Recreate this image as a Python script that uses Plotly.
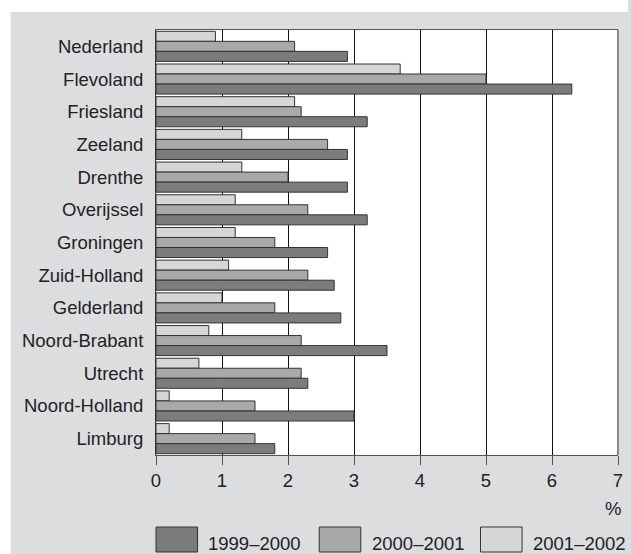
import plotly.graph_objects as go

# ── DATA ──────────────────────────────────────────────────────────────────────
provinces = ["Nederland", "Flevoland", "Friesland", "Zeeland", "Drenthe",
             "Overijssel", "Groningen", "Zuid-Holland", "Gelderland",
             "Noord-Brabant", "Utrecht", "Noord-Holland", "Limburg"]

v_2001_2002 = [0.9, 3.7, 2.1, 1.3, 1.3, 1.2, 1.2, 1.1, 1.0, 0.8, 0.65, 0.2, 0.2]
v_2000_2001 = [2.1, 5.0, 2.2, 2.6, 2.0, 2.3, 1.8, 2.3, 1.8, 2.2, 2.2, 1.5, 1.5]
v_1999_2000 = [2.9, 6.3, 3.2, 2.9, 2.9, 3.2, 2.6, 2.7, 2.8, 3.5, 2.3, 3.0, 1.8]

periods = ["1999–2000", "2000–2001", "2001–2002"]
x_ticks = [0, 1, 2, 3, 4, 5, 6, 7]

# ── STYLE ─────────────────────────────────────────────────────────────────────
BG = "#dcdddf"
COLORS = {"1999–2000": "#7b7c7e", "2000–2001": "#a8a9ab", "2001–2002": "#d5d6d8"}
EDGE = "#333333"
FONT = "Liberation Sans, Arial, sans-serif"
FS = 18.5

W, H = 631, 554
M = dict(l=156, r=8, t=30, b=99)
PW = W - M["l"] - M["r"]
PH = H - M["t"] - M["b"]


# helpers: pixel -> paper coordinate
def px_x(px):
    return (px - M["l"]) / PW


def px_y(py):
    return (H - M["b"] - py) / PH


fig = go.Figure()

# light series first -> sits at top of each group (reversed axis)
series = [("2001–2002", v_2001_2002), ("2000–2001", v_2000_2001), ("1999–2000", v_1999_2000)]
for name, vals in series:
    fig.add_trace(go.Bar(
        y=provinces, x=vals, name=name, orientation="h",
        marker=dict(color=COLORS[name], line=dict(color=EDGE, width=1)),
        showlegend=False,
    ))

# ── BACKGROUND / FRAME SHAPES ─────────────────────────────────────────────────
shapes = [
    # white strip above the grey panel
    dict(type="rect", xref="paper", yref="paper", layer="below",
         x0=px_x(-2), x1=px_x(W + 2), y0=px_y(12), y1=px_y(-2),
         fillcolor="white", line=dict(width=0)),
    # white strip left of the grey panel
    dict(type="rect", xref="paper", yref="paper", layer="below",
         x0=px_x(-2), x1=px_x(9), y0=px_y(H + 2), y1=px_y(-2),
         fillcolor="white", line=dict(width=0)),
    # right border of plot
    dict(type="line", xref="paper", yref="paper",
         x0=1, x1=1, y0=0, y1=1, line=dict(color="#888888", width=2)),
]

annotations = [
    dict(text="%", xref="paper", yref="paper", x=px_x(618), y=px_y(509),
         showarrow=False, font=dict(size=FS, color="#222"), xanchor="center", yanchor="middle"),
]

# ── LEGEND (drawn by hand, large swatches) ────────────────────────────────────
legend_box_left = [156, 321, 484]
for name, bx in zip(periods, legend_box_left):
    shapes.append(dict(type="rect", xref="paper", yref="paper",
                       x0=px_x(bx), x1=px_x(bx + 42), y0=px_y(552), y1=px_y(527),
                       fillcolor=COLORS[name], line=dict(color=EDGE, width=1)))
    annotations.append(dict(text=name, xref="paper", yref="paper",
                            x=px_x(bx + 51), y=px_y(543), showarrow=False,
                            xanchor="left", yanchor="middle",
                            font=dict(size=FS, color="#222")))

fig.update_layout(
    width=W, height=H,
    margin=M,
    paper_bgcolor=BG,
    plot_bgcolor="white",
    barmode="group",
    bargap=0.08,
    bargroupgap=0,
    font=dict(family=FONT, size=FS, color="#222"),
    shapes=shapes,
    annotations=annotations,
)

fig.update_xaxes(
    range=[0, 7], tickvals=x_ticks, ticktext=[str(t) for t in x_ticks],
    showgrid=True, gridcolor="#111111", gridwidth=1,
    showline=True, linecolor="#555555", linewidth=1, mirror=True,
    ticks="outside", ticklen=9, tickcolor="#555555", tickwidth=1,
    zeroline=False, fixedrange=True,
    tickfont=dict(size=FS, color="#222"),
)
fig.update_yaxes(
    categoryorder="array", categoryarray=provinces, autorange="reversed",
    showgrid=False, showline=True, linecolor="#333333", linewidth=1,
    ticks="", ticklabelstandoff=8, fixedrange=True,
    tickfont=dict(size=FS, color="#222"),
)

# drop the default page margin so the figure fills the window
fig.write_html("out.html",
               config={"displayModeBar": False},
               post_script="document.body.style.margin='0';"
                           "document.body.style.overflow='hidden';")
